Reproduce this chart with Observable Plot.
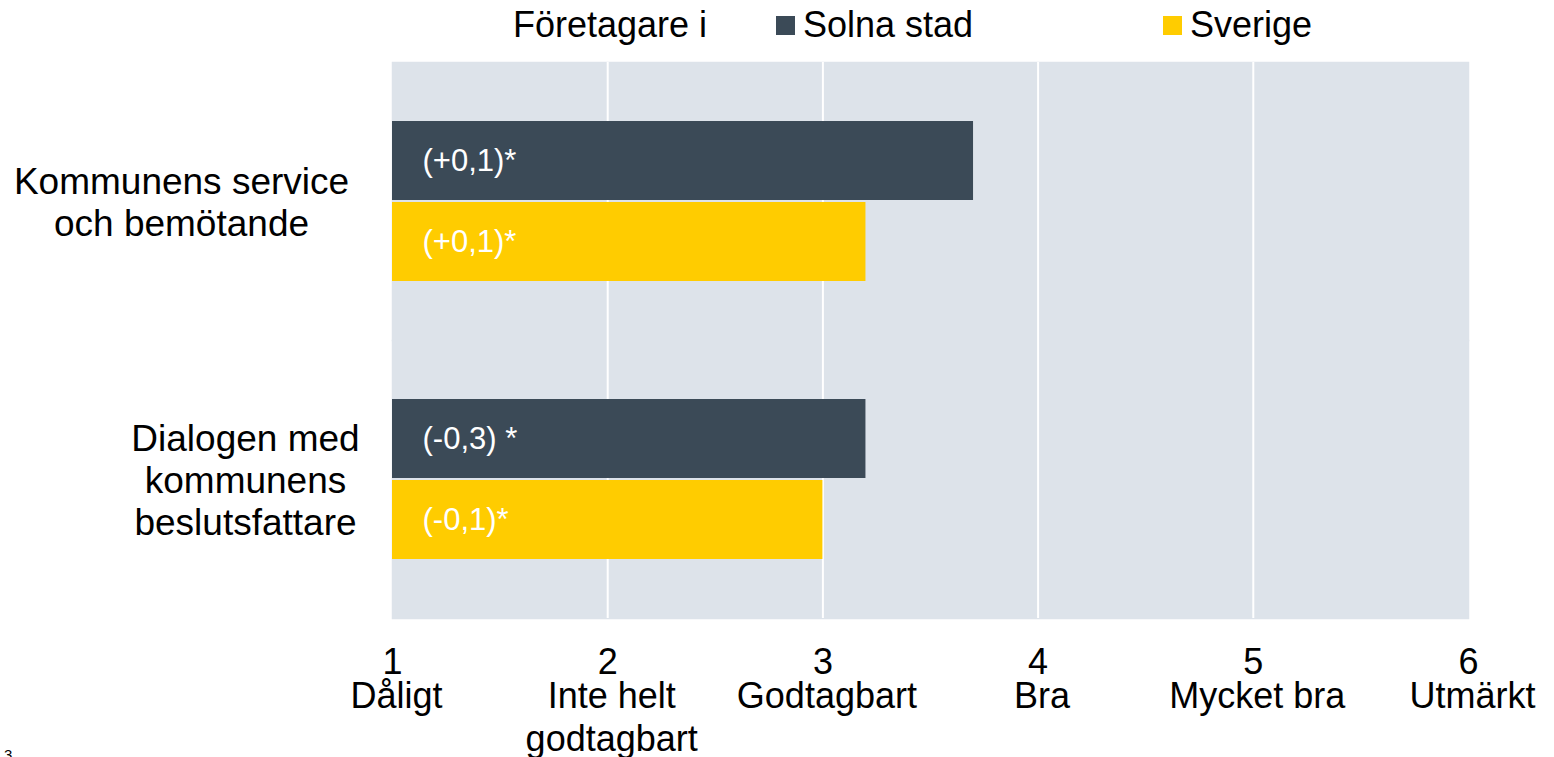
<!DOCTYPE html>
<html><head><meta charset="utf-8">
<script src="https://cdn.jsdelivr.net/npm/d3@7"></script>
<script src="https://cdn.jsdelivr.net/npm/@observablehq/plot@0.6"></script>
<style>
body{margin:0;background:#fff;font-family:"Liberation Sans",Arial,sans-serif;}
#wrap{position:relative;width:1554px;height:757px;overflow:hidden;}
#legend{position:relative;height:62px;}
#legend span{position:absolute;font-size:36px;line-height:1;color:#000;white-space:nowrap}
#legend .sw{position:absolute;width:19px;height:19px}
#note{position:absolute;left:4px;top:746px;font-size:15px;color:#000}
</style></head><body>
<div id="wrap"><div id="legend"></div><div id="chart"></div><div id="note">3</div></div>
<script>
const categories = ["Kommunens service\noch bemötande", "Dialogen med\nkommunens\nbeslutsfattare"];
const seriesNames = ["Solna stad", "Sverige"];
const solnaValues = [3.7, 3.2];
const sverigeValues = [3.2, 3.0];
const solnaLabels = ["(+0,1)*", "(-0,3) *"];
const sverigeLabels = ["(+0,1)*", "(-0,1)*"];
const tickValues = [1, 2, 3, 4, 5, 6];
const tickLabels = ["Dåligt", "Inte helt\ngodtagbart", "Godtagbart", "Bra", "Mycket bra", "Utmärkt"];
const legendTitle = "Företagare i";
const colors = ["#3b4a57", "#ffcc00"];

// Legend (HTML above the SVG)
const leg = document.getElementById("legend");
leg.innerHTML =
  `<span style="left:513px;top:7px">${legendTitle}</span>` +
  `<div class="sw" style="left:776px;top:16px;background:${colors[0]}"></div>` +
  `<span style="left:803px;top:7px">${seriesNames[0]}</span>` +
  `<div class="sw" style="left:1163px;top:16px;background:${colors[1]}"></div>` +
  `<span style="left:1190px;top:7px">${seriesNames[1]}</span>`;

const rows = [];
categories.forEach((c, i) => {
  rows.push({cat: c, series: seriesNames[0], value: solnaValues[i], label: solnaLabels[i]});
  rows.push({cat: c, series: seriesNames[1], value: sverigeValues[i], label: sverigeLabels[i]});
});

const plot = Plot.plot({
  width: 1554, height: 695,
  marginLeft: 392, marginRight: 86, marginTop: 0, marginBottom: 139,
  style: {fontFamily: '"Liberation Sans", Arial, sans-serif', background: "transparent", overflow: "visible", color: "#000"},
  x: {domain: [1, 6], axis: null, label: null},
  y: {domain: seriesNames, axis: null, paddingInner: 0.025, paddingOuter: 0.728},
  fy: {domain: categories, axis: null, padding: 0},
  color: {domain: seriesNames, range: colors},
  marks: [
    Plot.frame({fill: "#dde3ea", stroke: "#dde3ea", strokeWidth: 1.5}),
    Plot.ruleX(tickValues.slice(1, -1), {stroke: "#fff", strokeWidth: 2}),
    Plot.barX(rows, {fy: "cat", y: "series", x1: d => tickValues[0], x2: "value", fill: "series"}),
    Plot.text(rows, {fy: "cat", y: "series", frameAnchor: "left", dx: 30, text: "label", textAnchor: "start", fill: "#fff", fontSize: 31}),
    Plot.text([categories[0]], {fy: d => d, frameAnchor: "left", dx: -211, text: d => d, textAnchor: "middle", lineAnchor: "middle", lineHeight: 1.14, fontSize: 37, fill: "#000"}),
    Plot.text([categories[1]], {fy: d => d, frameAnchor: "left", dx: -147, text: d => d, textAnchor: "middle", lineAnchor: "middle", lineHeight: 1.14, fontSize: 37, fill: "#000"}),
    Plot.axisX(tickValues, {tickSize: 0, tickPadding: 30, fontSize: 36, label: null, tickFormat: d => String(d), fill: "#000"}),
    Plot.axisX(tickValues, {tickSize: 0, tickPadding: 60, fontSize: 36, dx: 4, label: null, lineHeight: 1.17, tickFormat: d => tickLabels[tickValues.indexOf(d)], fill: "#000"})
  ]
});
document.getElementById("chart").appendChild(plot);
</script>
</body></html>
